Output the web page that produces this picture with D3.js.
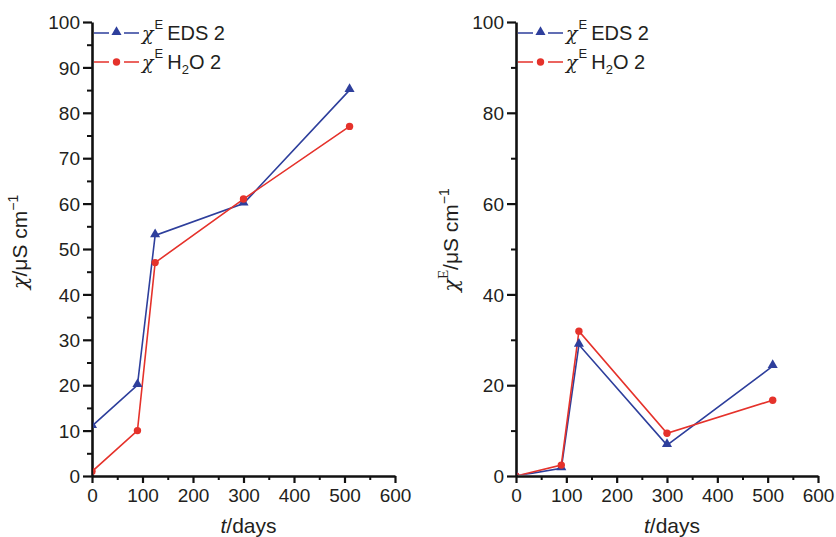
<!DOCTYPE html>
<html><head><meta charset="utf-8">
<script src="https://cdn.jsdelivr.net/npm/d3@7"></script>
<style>body{margin:0;background:#fff}svg{display:block}text{font-family:"Liberation Sans",Arial,sans-serif;fill:#231f20}</style>
</head><body><svg id="c" width="836" height="537"></svg>
<script>
const days = [0, 90, 125, 300, 510];
const edsTotal = [11, 20, 53, 60, 85];
const h2oTotal = [1, 10, 47, 61, 77];
const edsExcess = [0, 1.7, 28.9, 6.8, 24.2];
const h2oExcess = [0, 2.4, 31.9, 9.4, 16.7];
const xTicks = [0, 100, 200, 300, 400, 500, 600];
const yTicksLeft = [0, 10, 20, 30, 40, 50, 60, 70, 80, 90, 100];
const yTicksRight = [0, 20, 40, 60, 80, 100];
const seriesNames = ["EDS 2", "H2O 2"];

const BLUE = "#2e3f9c", RED = "#e5322b";
const svg = d3.select("#c");
const defs = svg.append("defs");

function panel(id, x0, x1, yMinor, yMajor, eds, h2o, excessTitle) {
  const x = d3.scaleLinear().domain([0, 600]).range([x0, x1]);
  const y = d3.scaleLinear().domain([0, 100]).range([476, 22]);
  const g = svg.append("g");
  defs.append("clipPath").attr("id", "clip" + id).append("rect")
    .attr("x", x0 + 1.3).attr("y", 0).attr("width", x1 - x0 + 20).attr("height", 474.7);
  // minor ticks
  const xMinor = d3.range(50, 600, 100);
  g.append("g").attr("transform", "translate(0,476)")
    .call(d3.axisBottom(x).tickValues(xMinor).tickSize(4).tickFormat(""))
    .call(s => { s.select(".domain").remove(); s.selectAll("line").attr("stroke", "#111").attr("stroke-width", 2); });
  g.append("g").attr("transform", `translate(${x0},0)`)
    .call(d3.axisLeft(y).tickValues(yMinor).tickSize(5).tickFormat(""))
    .call(s => { s.select(".domain").remove(); s.selectAll("line").attr("stroke", "#111").attr("stroke-width", 2); });
  // major axes
  const xa = g.append("g").attr("transform", "translate(0,476)")
    .call(d3.axisBottom(x).tickValues(xTicks).tickSize(7).tickSizeOuter(0).tickPadding(6));
  const ya = g.append("g").attr("transform", `translate(${x0},0)`)
    .call(d3.axisLeft(y).tickValues(yMajor).tickSize(9).tickSizeOuter(0).tickPadding(3));
  [xa, ya].forEach(a => {
    a.select(".domain").attr("stroke", "#111").attr("stroke-width", 2.6);
    a.selectAll(".tick line").attr("stroke", "#111").attr("stroke-width", 2.2);
    a.selectAll(".tick text").attr("font-size", 19).style("fill", "#231f20").attr("font-family", "Liberation Sans, Arial, sans-serif");
  });
  ya.selectAll(".tick text").attr("dy", "0.35em");

  const dg = g.append("g").attr("clip-path", `url(#clip${id})`);
  const line = d3.line().x((d, i) => x(days[i])).y(d => y(d));
  dg.append("path").datum(eds).attr("d", line).attr("fill", "none").attr("stroke", BLUE).attr("stroke-width", 1.6);
  dg.append("path").datum(h2o).attr("d", line).attr("fill", "none").attr("stroke", RED).attr("stroke-width", 1.6);
  const tri = d3.symbol().type(d3.symbolTriangle).size(44);
  dg.selectAll(".t").data(eds).enter().append("path")
    .attr("d", tri).attr("transform", (d, i) => `translate(${x(days[i])},${y(d) - 1})`).attr("fill", BLUE);
  dg.selectAll(".c").data(h2o).enter().append("circle")
    .attr("cx", (d, i) => x(days[i])).attr("cy", d => y(d)).attr("r", 3.7).attr("fill", RED);

  // legend
  const legY = [33, 62];
  const cols = [BLUE, RED];
  legY.forEach((ly, k) => {
    const lx = x0 + 2;
    g.append("line").attr("x1", lx).attr("x2", lx + 45).attr("y1", ly).attr("y2", ly)
      .attr("stroke", cols[k]).attr("stroke-width", 1.6).attr("stroke-dasharray", "15,5,5,5,15");
    if (k === 0) g.append("path").attr("d", tri).attr("transform", `translate(${lx + 22.5},${ly - 1})`).attr("fill", BLUE);
    else g.append("circle").attr("cx", lx + 22.5).attr("cy", ly).attr("r", 3.7).attr("fill", RED);
    const t = g.append("text").attr("x", lx + 48).attr("y", ly + 7).attr("font-size", 20);
    t.append("tspan").text("χ").attr("font-family", "DejaVu Serif, serif").attr("font-style", "italic").attr("font-size", 19);
    t.append("tspan").text("E").attr("font-size", 13).attr("dy", -11).attr("dx", 1);
    if (k === 0) {
      t.append("tspan").text("EDS 2").attr("dy", 11).attr("dx", 4);
    } else {
      t.append("tspan").text("H").attr("dy", 11).attr("dx", 4);
      t.append("tspan").text("2").attr("font-size", 13).attr("dy", 5);
      t.append("tspan").text("O 2").attr("dy", -5);
    }
  });

  // x title
  const xt = g.append("text").attr("x", (x0 + x1) / 2 + 5).attr("y", 533).attr("text-anchor", "middle").attr("font-size", 21);
  xt.append("tspan").text("t").attr("font-style", "italic");
  xt.append("tspan").text("/days");

  // y title
  const tx = excessTitle ? x0 - 58 : x0 - 65;
  const yt = g.append("text").attr("transform", `translate(${tx},${excessTitle ? 240 : 242}) rotate(-90)`).attr("text-anchor", "middle").attr("font-size", 21);
  yt.append("tspan").text("χ").attr("font-family", "DejaVu Serif, serif").attr("font-style", "italic").attr("font-size", 21);
  if (excessTitle) {
    yt.append("tspan").text("E").attr("font-family", "Liberation Serif, serif").attr("font-size", 15).attr("dy", -10);
    yt.append("tspan").text("/μS cm").attr("dy", 10);
  } else {
    yt.append("tspan").text("/μS cm");
  }
  yt.append("tspan").text("−1").attr("font-size", 14).attr("dy", -9);
}

panel("L", 92, 395, d3.range(5, 100, 10), yTicksLeft, edsTotal, h2oTotal, false);
panel("R", 516, 818, d3.range(10, 100, 20), yTicksRight, edsExcess, h2oExcess, true);
</script></body></html>
